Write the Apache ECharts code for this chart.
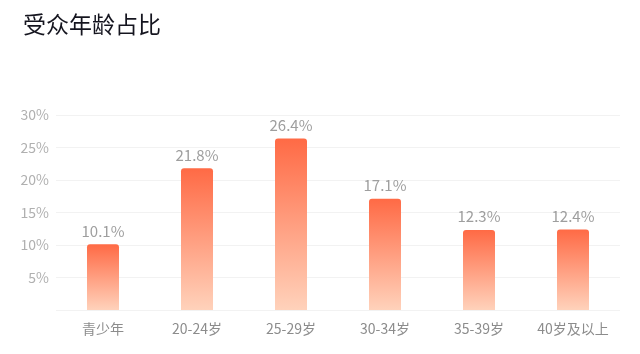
<!DOCTYPE html>
<html>
<head>
<meta charset="utf-8">
<style>
  html, body { margin: 0; padding: 0; background: #ffffff; }
  #chart { width: 640px; height: 354px; }
</style>
<script src="https://cdn.jsdelivr.net/npm/echarts@6/dist/echarts.min.js"></script>
</head>
<body>
<div id="chart"></div>
<script>
// Audience age distribution (percent)
const titleText = '受众年龄占比';
const categories = ['青少年', '20-24岁', '25-29岁', '30-34岁', '35-39岁', '40岁及以上'];
const shares = [10.1, 21.8, 26.4, 17.1, 12.3, 12.4];
const yTicks = { min: 0, max: 30, interval: 5 };

const chart = echarts.init(document.getElementById('chart'), null, { renderer: 'canvas' });
const font = '"Noto Sans CJK SC", "Noto Sans", sans-serif';

chart.setOption({
  animation: false,
  backgroundColor: '#ffffff',
  title: {
    text: titleText,
    left: 18,
    top: 8,
    textStyle: { fontSize: 23, fontWeight: 'normal', color: '#15151f', fontFamily: font }
  },
  grid: { left: 56, right: 20, top: 115, bottom: 44 },
  xAxis: {
    type: 'category',
    data: categories,
    axisLine: { show: false },
    axisTick: { show: false },
    axisLabel: { color: '#8c8c8c', fontSize: 14, margin: 12, fontFamily: font }
  },
  yAxis: {
    type: 'value',
    min: yTicks.min,
    max: yTicks.max,
    interval: yTicks.interval,
    axisLine: { show: false },
    axisTick: { show: false },
    axisLabel: {
      color: '#b0b0b0', fontSize: 14, margin: 7, fontFamily: font,
      formatter: v => (v === 0 ? '' : v + '%')
    },
    splitLine: { lineStyle: { color: '#f2f2f2', width: 1 } }
  },
  series: [{
    type: 'bar',
    data: shares,
    barWidth: 32,
    itemStyle: {
      borderRadius: [3, 3, 0, 0],
      color: new echarts.graphic.LinearGradient(0, 0, 0, 1, [
        { offset: 0, color: '#ff6a45' },
        { offset: 1, color: '#ffd2bb' }
      ])
    },
    label: {
      show: true,
      position: 'top',
      distance: 6,
      color: '#9e9e9e',
      fontSize: 15,
      fontFamily: font,
      formatter: p => p.value.toFixed(1) + '%'
    }
  }]
});
</script>
</body>
</html>
